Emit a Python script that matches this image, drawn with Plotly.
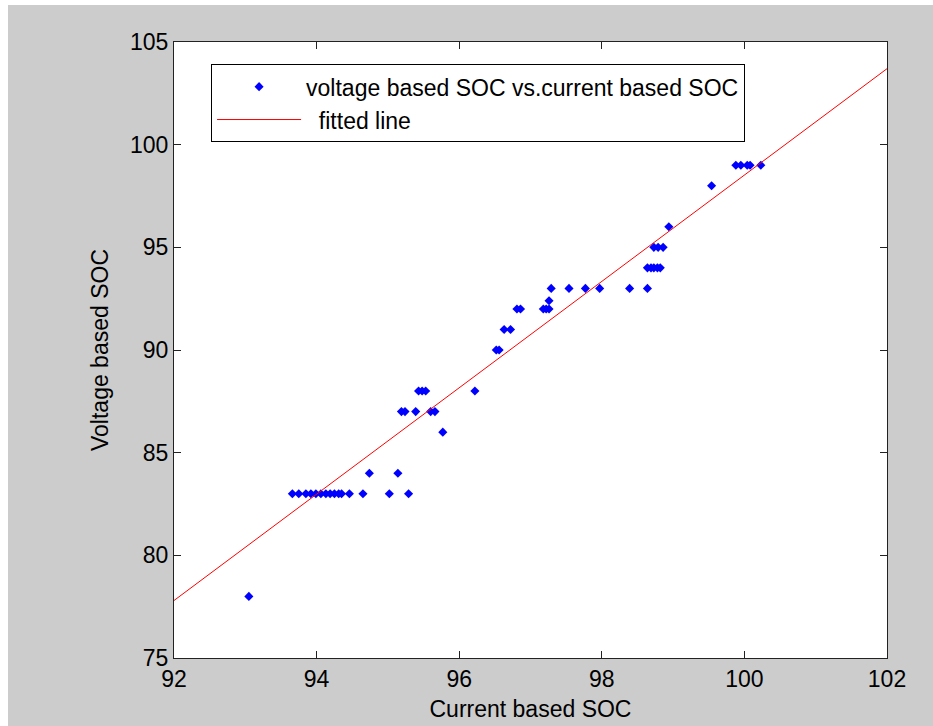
import plotly.graph_objects as go

# Scatter data: current based SOC (x) vs voltage based SOC (y)
current_soc = [
    93.05,
    93.66, 93.75, 93.85, 93.92, 93.99, 94.06, 94.13, 94.19, 94.25, 94.31, 94.35, 94.46, 94.65, 95.02, 95.29,
    94.74, 95.14,
    95.19, 95.24, 95.39, 95.60, 95.66,
    95.43, 95.48, 95.53,
    95.77, 96.22,
    96.52, 96.56, 96.63, 96.72,
    96.81, 96.86, 97.18, 97.22, 97.26, 97.26,
    97.29, 97.54, 97.77, 97.97, 98.39,
    98.64, 98.64, 98.69, 98.73, 98.78, 98.82,
    98.73, 98.79, 98.86,
    98.94, 99.54,
    99.88, 99.95, 100.04, 100.08, 100.23,
]
voltage_soc = [
    78,
    83, 83, 83, 83, 83, 83, 83, 83, 83, 83, 83, 83, 83, 83, 83,
    84, 84,
    87, 87, 87, 87, 87,
    88, 88, 88,
    86, 88,
    90, 90, 91, 91,
    92, 92, 92, 92, 92, 92.4,
    93, 93, 93, 93, 93,
    93, 94, 94, 94, 94, 94,
    95, 95, 95,
    96, 98,
    99, 99, 99, 99, 99,
]

# Fitted line endpoints
fit_x = [92, 102]
fit_y = [77.8, 103.7]

x_ticks = [92, 94, 96, 98, 100, 102]
y_ticks = [75, 80, 85, 90, 95, 100, 105]

FONT = "Liberation Sans, Arial, sans-serif"
FS = 23

fig = go.Figure()
fig.add_trace(go.Scatter(
    x=current_soc, y=voltage_soc, mode="markers",
    name="voltage based SOC vs.current based SOC",
    marker=dict(symbol="diamond", size=7, color="#0000ff", line=dict(width=0)),
))
fig.add_trace(go.Scatter(
    x=fit_x, y=fit_y, mode="lines",
    name="  fitted line",
    line=dict(color="#ff0000", width=1),
))

axis_common = dict(
    showgrid=False, zeroline=False, showline=True, linecolor="#222222", linewidth=1,
    mirror="ticks", ticks="inside", ticklen=7, tickcolor="#222222", tickwidth=1,
    tickfont=dict(family=FONT, size=FS, color="black"),
)

# thin white border at the left and top edges of the image
plot_w, plot_h = 933 - 174 - 46, 726 - 42 - 68
def px_x(p):
    return (p - 174) / plot_w
def px_y(p):
    return (726 - 68 - p) / plot_h

fig.update_layout(
    width=933, height=726,
    margin=dict(l=174, r=46, t=42, b=68),
    paper_bgcolor="#cccccc",
    plot_bgcolor="white",
    font=dict(family=FONT, size=FS, color="black"),
    xaxis=dict(range=[92, 102], tickvals=x_ticks,
               title=dict(text="Current based SOC", font=dict(family=FONT, size=FS), standoff=10),
               automargin=False, **axis_common),
    yaxis=dict(range=[75, 105], tickvals=y_ticks,
               title=dict(text="Voltage based SOC", font=dict(family=FONT, size=FS), standoff=14),
               automargin=False, **axis_common),
    legend=dict(
        x=0.052, y=0.964, xanchor="left", yanchor="top",
        bgcolor="white", bordercolor="black", borderwidth=1,
        font=dict(family=FONT, size=FS, color="black"),
        itemwidth=84, tracegroupgap=0,
    ),
    showlegend=True,
    shapes=[
        dict(type="rect", xref="paper", yref="paper", x0=px_x(0), x1=px_x(8),
             y0=px_y(726), y1=px_y(0), fillcolor="white", line=dict(width=0)),
        dict(type="rect", xref="paper", yref="paper", x0=px_x(0), x1=px_x(933),
             y0=px_y(5), y1=px_y(0), fillcolor="white", line=dict(width=0)),
    ],
)

fig.write_html("out.html")
